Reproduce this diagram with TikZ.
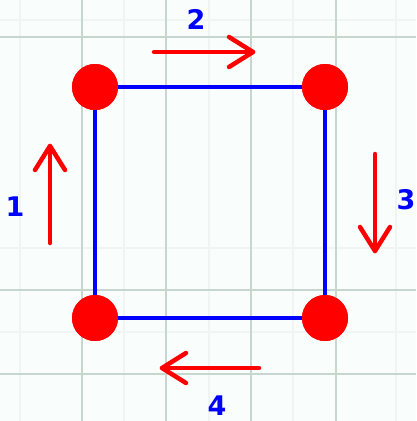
\documentclass[tikz,border=0pt]{standalone}
\usepackage{fontspec}
\setmainfont{DejaVu Sans}
\definecolor{gridc}{RGB}{200,214,208}
\definecolor{minorc}{RGB}{238,245,242}
\definecolor{bgc}{RGB}{249,253,252}
\definecolor{myred}{RGB}{255,0,0}
\definecolor{myblue}{RGB}{0,0,255}
\tikzset{
  dot/.style={circle, fill=myred, draw=none, minimum size=46pt, inner sep=0pt},
  side/.style={draw=myblue, line width=4.5pt},
  dirarrow/.style={draw=myred, line width=4.5pt, line cap=round, line join=round},
  num/.style={text=myblue, font=\bfseries\fontsize{27}{27}\selectfont, inner sep=0pt}
}
\begin{document}
\begin{tikzpicture}[x=1pt,y=-1pt]
\useasboundingbox (0,0) rectangle (416,421);
\fill[bgc] (0,0) rectangle (416,421);
% faint minor grid
\foreach \x in {20,124,209,293,396} \draw[minorc, line width=1.5pt] (\x,0) -- (\x,421);
\foreach \y in {20,248,332} \draw[minorc, line width=1.5pt] (0,\y) -- (416,\y);
% major grid
\foreach \x in {82,166,251,336} \draw[gridc, line width=2pt] (\x,0) -- (\x,421);
\foreach \y in {37,290,374} \draw[gridc, line width=2pt] (0,\y) -- (416,\y);

% corners
\node[dot] (tl) at (95,87) {};
\node[dot] (tr) at (325,87) {};
\node[dot] (bl) at (95,318) {};
\node[dot] (br) at (325,318) {};
\draw[side] (tl.center) -- (tr.center) -- (br.center) -- (bl.center) -- cycle;
\node[dot] at (tl) {};
\node[dot] at (tr) {};
\node[dot] at (bl) {};
\node[dot] at (br) {};

% direction arrows
\coordinate (a2s) at (154,52); \coordinate (a2e) at (253,52);
\draw[dirarrow] (a2s) -- (a2e);
\draw[dirarrow] ([shift={(-24,-15)}]a2e) -- (a2e) -- ([shift={(-24,15)}]a2e);

\coordinate (a3s) at (375,154); \coordinate (a3e) at (375,251);
\draw[dirarrow] (a3s) -- (a3e);
\draw[dirarrow] ([shift={(-15,-24)}]a3e) -- (a3e) -- ([shift={(15,-24)}]a3e);

\coordinate (a4s) at (259,368); \coordinate (a4e) at (162,368);
\draw[dirarrow] (a4s) -- (a4e);
\draw[dirarrow] ([shift={(24,-15)}]a4e) -- (a4e) -- ([shift={(24,15)}]a4e);

\coordinate (a1s) at (50,243); \coordinate (a1e) at (50,146);
\draw[dirarrow] (a1s) -- (a1e);
\draw[dirarrow] ([shift={(-15,24)}]a1e) -- (a1e) -- ([shift={(15,24)}]a1e);

% labels
\node[num] (n2) at (196,19) {2};
\node[num] (n1) at (15,207) {1};
\node[num] (n3) at (406,200) {3};
\node[num] (n4) at (217,406) {4};
\end{tikzpicture}
\end{document}
